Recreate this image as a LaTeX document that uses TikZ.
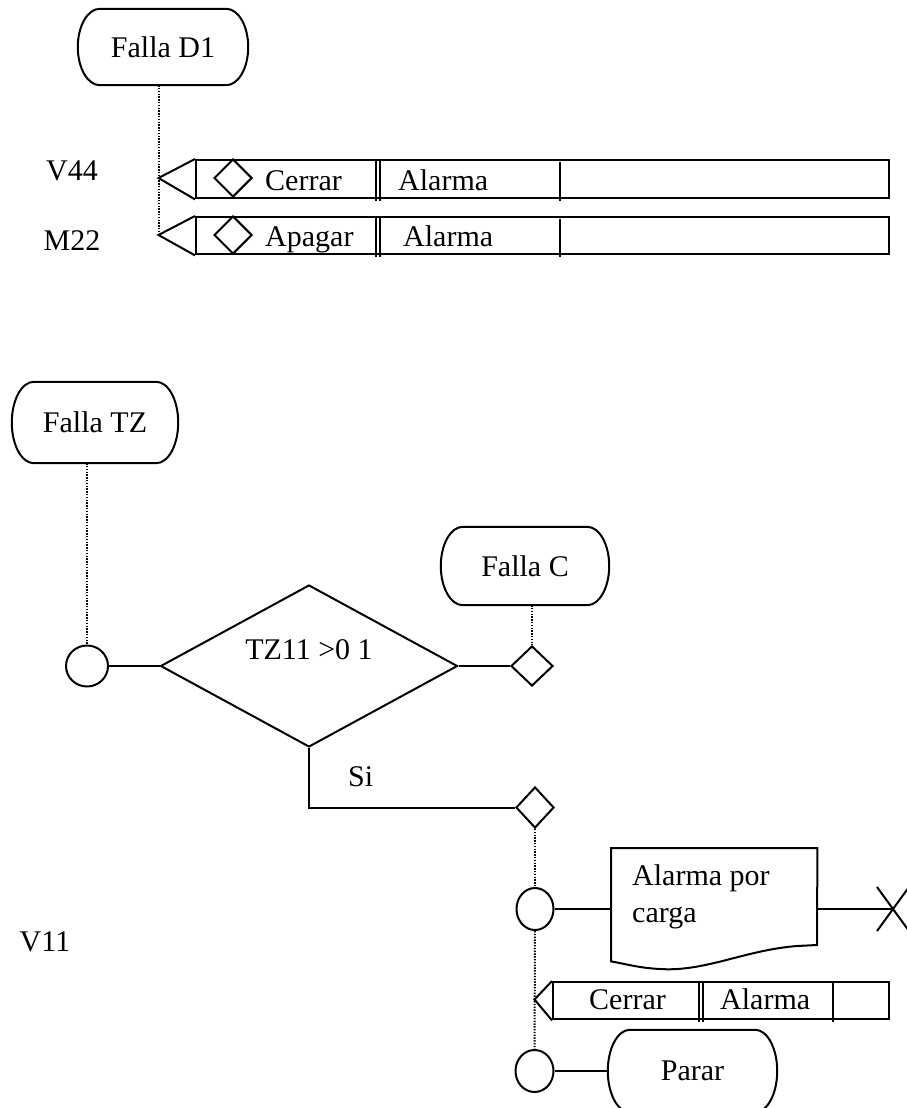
\documentclass[tikz,border=0pt]{standalone}
\usepackage{fontspec}
\setmainfont{Liberation Serif}
\usetikzlibrary{shapes.geometric,shapes.misc,calc}
\newcommand{\stadshape}[1]{%
  \draw[ln] ([xshift=22pt]#1.north west) -- ([xshift=-22pt]#1.north east)
  .. controls ($([xshift=-22pt]#1.north east)!0.552!(#1.north east)$) and ($(#1.east)!0.552!(#1.north east)$) .. (#1.east)
  .. controls ($(#1.east)!0.552!(#1.south east)$) and ($([xshift=-22pt]#1.south east)!0.552!(#1.south east)$) .. ([xshift=-22pt]#1.south east)
  -- ([xshift=22pt]#1.south west)
  .. controls ($([xshift=22pt]#1.south west)!0.552!(#1.south west)$) and ($(#1.west)!0.552!(#1.south west)$) .. (#1.west)
  .. controls ($(#1.west)!0.552!(#1.north west)$) and ($([xshift=22pt]#1.north west)!0.552!(#1.north west)$) .. ([xshift=22pt]#1.north west) -- cycle;}
\begin{document}
\begin{tikzpicture}[x=1pt,y=-1pt,
  every node/.style={font=\fontsize{30}{34}\selectfont},
  ln/.style={line width=2pt},
  thinbar/.style={line width=1.6pt},
  dot/.style={line width=2pt, dash pattern=on 1.4pt off 1.4pt},
  term/.style={rectangle, inner sep=0pt, minimum width=168pt, minimum height=78pt},
  rowbox/.style={draw, line width=2.4pt, inner sep=0pt},
  smalld/.style={diamond, draw, line width=2pt, inner sep=0pt, minimum width=38pt, minimum height=38pt},
  conn/.style={ellipse, draw, line width=2pt, inner sep=0pt, minimum width=40pt, minimum height=42pt},
  lbl/.style={anchor=base west, inner sep=0pt}
]
\useasboundingbox (0,0) rectangle (906,1108);

% ---------- top: Falla D1 ----------
\node[term, minimum width=170pt, minimum height=76pt] (fd1) at (163,47) {Falla D1};
\stadshape{fd1}

\node[anchor=base, inner sep=0pt] (v44) at (72,180) {V44};
\node[anchor=base, inner sep=0pt] (m22) at (72,250) {M22};

% row 1
\node[rowbox, minimum width=693pt, minimum height=38pt, anchor=north west] (r1) at (195,159) {};
\coordinate (t1) at (158.5,178);
\draw[ln] (r1.north west) -- (t1) -- (r1.south west);
\node[smalld] (d1) at (233,178) {};
\node[lbl] (r1a) at (265,190) {Cerrar};
\node[lbl] (r1b) at (398,190) {Alarma};
\draw[thinbar] (376,159) -- (376,201) (380,159) -- (380,201) (560,162) -- (560,201);

% row 2
\node[rowbox, minimum width=693pt, minimum height=37pt, anchor=north west] (r2) at (195,216) {};
\coordinate (t2) at (158.5,235);
\draw[ln] (r2.north west) -- (t2) -- (r2.south west);
\node[smalld] (d2) at (233,235) {};
\node[lbl] (r2a) at (265,246) {Apagar};
\node[lbl] (r2b) at (403,246) {Alarma};
\draw[thinbar] (376,216) -- (376,257) (380,216) -- (380,257) (560,219) -- (560,257);

\draw[dot] (fd1.south -| t1) -- (t2);

% ---------- Falla TZ ----------
\node[term, minimum width=166pt, minimum height=81pt] (ftz) at (95,422.5) {Falla TZ};
\stadshape{ftz}
\node[conn, minimum width=42pt, minimum height=41pt] (c1) at (87,666) {};
\draw[dot] (ftz.south -| c1.north) -- (c1.north);

\node[diamond, draw, line width=2pt, inner sep=0pt, minimum width=297pt, minimum height=162pt] (dm) at (309,666) {};
\node[inner sep=0pt] (dmt) at (309,650) {TZ11 >0 1};
\draw[ln] (c1.east) -- (dm.west);

\node[term] (fc) at (525,566) {Falla C};
\stadshape{fc}
\node[smalld, minimum width=42pt, minimum height=40pt] (sd1) at (532,666) {};
\draw[ln] (dm.east) -- (sd1.west);
\draw[dot] (fc.south -| sd1.north) -- (sd1.north);

\node[smalld, minimum width=38pt, minimum height=41pt] (sd2) at (535,807.5) {};
\draw[ln] (dm.south) |- (sd2.west);
\node[lbl] (si) at (348,786) {Si};

% ---------- document ----------
\node[conn, minimum width=37pt, minimum height=42pt] (c2) at (535,909) {};
\draw[dot] (sd2.south) -- (c2.north);
\node[inner sep=0pt, minimum width=206pt, minimum height=113pt, anchor=north west] (doc) at (611,848) {};
\draw[ln] (doc.north west) -- (doc.north east) -- (817,945) -- (797,946)
  .. controls (745,950) and (705,972) .. (660,969)
  .. controls (638,968) and (622,963) .. (doc.south west) -- cycle;
\node[lbl] (doct1) at (632,885) {Alarma por};
\node[lbl] (doct2) at (632,922) {carga};
\draw[ln] (c2.east) -- (c2.east -| doc.west);
\coordinate (xm) at (893,909);
\draw[ln] (xm -| doc.east) -- (xm);
\draw[ln] ([shift={(-16,-22)}]xm) -- ([shift={(16,22)}]xm)
          ([shift={(-16,22)}]xm) -- ([shift={(16,-22)}]xm);

\node[anchor=base, inner sep=0pt] (v11) at (45,951) {V11};

% row 3
\node[rowbox, minimum width=336pt, minimum height=37pt, anchor=north west] (r3) at (552,981) {};
\coordinate (t3) at (534.5,999.5);
\draw[ln] (r3.north west) -- (t3) -- (r3.south west);
\node[lbl] (r3a) at (589,1009) {Cerrar};
\node[lbl] (r3b) at (720,1009) {Alarma};
\draw[thinbar] (699,981) -- (699,1022) (703,981) -- (703,1022) (833,981) -- (833,1022);

% ---------- Parar ----------
\node[conn, minimum width=38pt, minimum height=42pt] (c3) at (534.5,1071) {};
\draw[dot] (c2.south) -- (c3.north);
\node[term, minimum width=169pt, minimum height=82pt] (parar) at (692.5,1071) {Parar};
\stadshape{parar}
\draw[ln] (c3.east) -- (parar.west);
\end{tikzpicture}
\end{document}
